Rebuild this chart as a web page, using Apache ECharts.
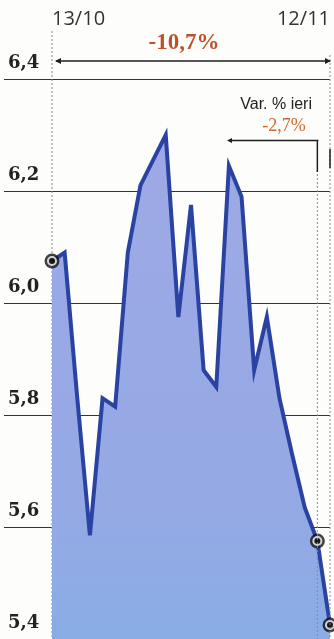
<!DOCTYPE html>
<html>
<head>
<meta charset="utf-8">
<script src="https://cdn.jsdelivr.net/npm/echarts@6/dist/echarts.min.js"></script>
<style>
html,body{margin:0;padding:0;background:#fdfdfb;}
#c{width:334px;height:639px;}
</style>
</head>
<body>
<div id="c"></div>
<script>
const dates = ['13/10','14/10','15/10','16/10','17/10','20/10','21/10','22/10','23/10','24/10','27/10','28/10','29/10','30/10','31/10','3/11','4/11','5/11','6/11','7/11','10/11','11/11','12/11'];
const prices = [6.075,6.09,5.83,5.585,5.83,5.815,6.09,6.21,6.255,6.30,5.975,6.175,5.88,5.85,6.245,6.19,5.88,5.975,5.83,5.73,5.635,5.575,5.425];
const yTicks = [5.4,5.6,5.8,6.0,6.2,6.4];
const markedIdx = [0, 21, 22];
const periodLabel = 'Var. % ieri';

const n = prices.length;
const fmtPct = v => (v >= 0 ? '+' : '-') + Math.abs(v).toFixed(1).replace('.', ',') + '%';
const totalVar = (prices[n-1] / prices[0] - 1) * 100;
const dayVar = (prices[n-1] / prices[n-2] - 1) * 100;
const markPts = markedIdx.map(i => [i, prices[i]]);

const chart = echarts.init(document.getElementById('c'), null, {renderer:'canvas'});
const yMin = yTicks[0], yMax = yTicks[yTicks.length-1];
const option = {
  animation:false,
  backgroundColor:'#fdfdfb',
  grid:[
    {left:52, right:4, top:79, height:561},
    {left:4, width:48, top:79, height:561}
  ],
  xAxis:[
    {type:'category', gridIndex:0, data:dates, boundaryGap:false, position:'top',
     axisLine:{show:false}, axisTick:{show:false}, splitLine:{show:false},
     axisLabel:{show:true, margin:50, interval:(i)=> i===0 || i===n-1,
       alignMinLabel:'left', alignMaxLabel:'right',
       fontFamily:'Open Sans', fontSize:20, color:'#333'}},
    {type:'value', gridIndex:1, show:false, min:0, max:1}
  ],
  yAxis:[
    {type:'value', gridIndex:0, min:yMin, max:yMax, interval:0.2,
     axisLine:{show:false}, axisTick:{show:false}, axisLabel:{show:false},
     splitLine:{show:true, lineStyle:{color:'#333', width:1}}},
    {type:'value', gridIndex:1, min:yMin, max:yMax, interval:0.2,
     axisLine:{show:false}, axisTick:{show:false},
     splitLine:{show:true, lineStyle:{color:'#333', width:1}},
     axisLabel:{show:true, inside:true, align:'left', margin:4, verticalAlign:'bottom',
       padding:[0,0,7,0], fontFamily:'DejaVu Serif', fontWeight:'bold', fontSize:18, color:'#222',
       formatter:(v)=> v.toFixed(1).replace('.', ',')}}
  ],
  series:[
    {type:'line', xAxisIndex:0, yAxisIndex:0, data:prices, symbol:'none', smooth:false,
     lineStyle:{color:'#2a43a2', width:4, join:'miter'},
     areaStyle:{origin:'start', opacity:1, color:new echarts.graphic.LinearGradient(0,0,0,1,[
        {offset:0, color:'#9ea9e6'},{offset:0.75, color:'#94a9e4'},{offset:1, color:'#89ade4'}])},
     z:2},
    {type:'scatter', xAxisIndex:0, yAxisIndex:0, data:markPts, symbol:'circle', symbolSize:15,
     itemStyle:{color:'#111'}, z:5, silent:true},
    {type:'scatter', xAxisIndex:0, yAxisIndex:0, data:markPts, symbol:'circle', symbolSize:8,
     itemStyle:{color:'#111', borderColor:'#ffffff', borderWidth:2}, z:6, silent:true}
  ]
};
chart.setOption(option);

const px = (i, v) => chart.convertToPixel({gridIndex:0}, [i, v]);
const xFirst = px(0, yMax)[0];
const xPrev = px(n-2, yMax)[0];
const xLast = px(n-1, yMax)[0];
const yBottom = px(0, yMin)[1];
const dash = {stroke:'#8a8a8a', lineWidth:1, lineDash:[2,2]};
const dark = '#1e1e1e';
const yDim = 61, yDay = 140.5;
const graphics = [
  {type:'line', shape:{x1:xFirst, y1:31, x2:xFirst, y2:yBottom}, style:dash, z:1},
  {type:'line', shape:{x1:xLast, y1:55, x2:xLast, y2:yBottom}, style:dash, z:10},
  {type:'line', shape:{x1:xPrev, y1:170, x2:xPrev, y2:yBottom}, style:dash, z:10},
  {type:'line', shape:{x1:xFirst+4, y1:yDim, x2:xLast, y2:yDim}, style:{stroke:dark, lineWidth:1.5}, z:10},
  {type:'polygon', shape:{points:[[xFirst+3,yDim],[xFirst+9,yDim-3],[xFirst+9,yDim+3]]}, style:{fill:dark}, z:10},
  {type:'polygon', shape:{points:[[xLast+1,yDim],[xLast-5,yDim-3],[xLast-5,yDim+3]]}, style:{fill:dark}, z:10},
  {type:'text', x:(xFirst+xLast)/2 - 7, y:43, style:{text:fmtPct(totalVar), fill:'#bd522a', font:'bold 23px "Liberation Serif"', align:'center', verticalAlign:'middle'}, z:10},
  {type:'text', x:312, y:104.5, style:{text:periodLabel, fill:'#222', font:'16px "Liberation Sans"', align:'right', verticalAlign:'middle'}, z:10},
  {type:'text', x:284, y:126, style:{text:fmtPct(dayVar), fill:'#cc6a2c', font:'18px "Liberation Serif"', align:'center', verticalAlign:'middle'}, z:10},
  {type:'line', shape:{x1:229, y1:yDay, x2:xPrev+1, y2:yDay}, style:{stroke:dark, lineWidth:1.5}, z:10},
  {type:'polygon', shape:{points:[[227,yDay],[232,yDay-2.5],[232,yDay+2.5]]}, style:{fill:dark}, z:10},
  {type:'line', shape:{x1:xPrev, y1:yDay, x2:xPrev, y2:172}, style:{stroke:dark, lineWidth:1.5}, z:10},
  {type:'line', shape:{x1:xLast, y1:149, x2:xLast, y2:168}, style:{stroke:dark, lineWidth:1.5}, z:10}
];
chart.setOption({graphic:graphics});
</script>
</body>
</html>
